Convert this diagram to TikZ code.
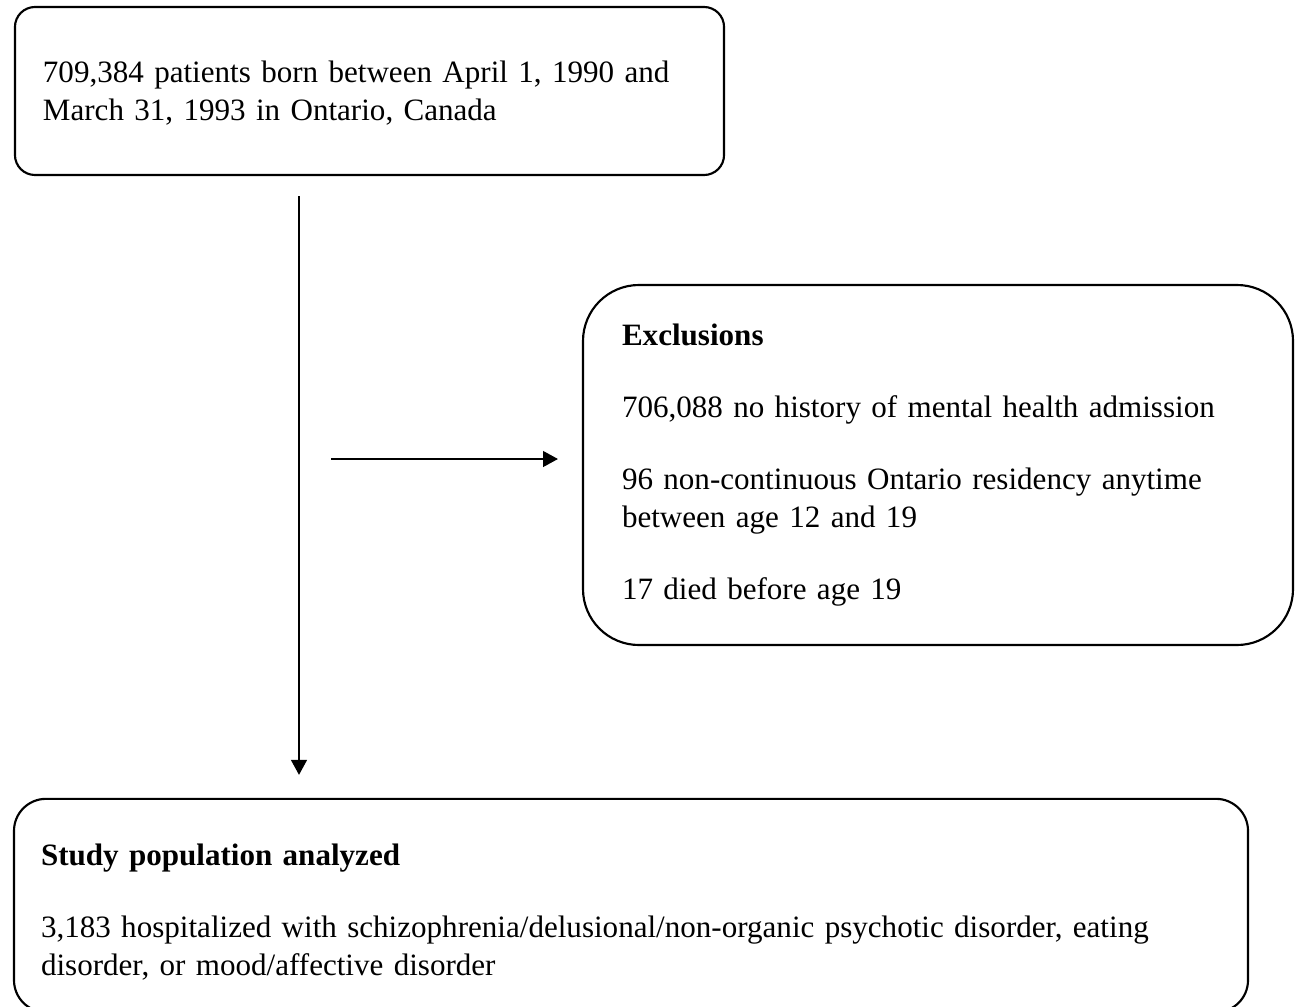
\documentclass[tikz,border=0pt]{standalone}
\usepackage{fontspec}
\setmainfont{Liberation Serif}
\usepackage{tikz}
\usetikzlibrary{arrows.meta,positioning,calc}

\begin{document}
\begin{tikzpicture}[
  x=0.375pt, y=-0.375pt,
  flowbox/.style={
    draw=black, line width=0.8pt, align=left, inner ysep=0pt,
    font=\fontsize{11.65pt}{14.25pt}\selectfont
  },
  arrow/.style={-{Triangle[length=5.6pt,width=6pt]}, line width=0.45pt, color=black}
]
  \useasboundingbox (0,0) rectangle (1296,1006);
  \node[flowbox, rounded corners=7.5pt, minimum width=265.9pt, minimum height=63pt,
        text width=244.9pt, inner xsep=10.5pt] (cohort) at (369.5,91)
    {\rule{0pt}{10pt}709,384 patients born between April 1, 1990 and\\March 31, 1993 in Ontario, Canada};
  \node[flowbox, rounded corners=21pt, minimum width=266.25pt, minimum height=135pt,
        text width=237pt, inner xsep=14.6pt] (excl) at (938,465)
    {\textbf{Exclusions}\\[12.75pt]
     706,088 no history of mental health admission\\[12.75pt]
     96 non-continuous Ontario residency anytime\\between age 12 and 19\\[12.75pt]
     17 died before age 19};
  \node[flowbox, rounded corners=12pt, minimum width=462.75pt, minimum height=80pt,
        text width=442.5pt, inner xsep=10pt] (study) at (631,905.5)
    {\rule{0pt}{13pt}\textbf{Study population analyzed}\\[12.75pt]
     3,183 hospitalized with schizophrenia/delusional/non-organic psychotic disorder, eating\\
     disorder, or mood/affective disorder};
  \coordinate (trunk) at (299,459);
  \coordinate (branch) at (331,459);
  \draw[arrow, shorten <=7.5pt, shorten >=8.6pt] (cohort.south -| trunk) -- (study.north -| trunk);
  \draw[arrow, shorten >=9pt] (branch) -- (branch -| excl.west);
\end{tikzpicture}
\end{document}
